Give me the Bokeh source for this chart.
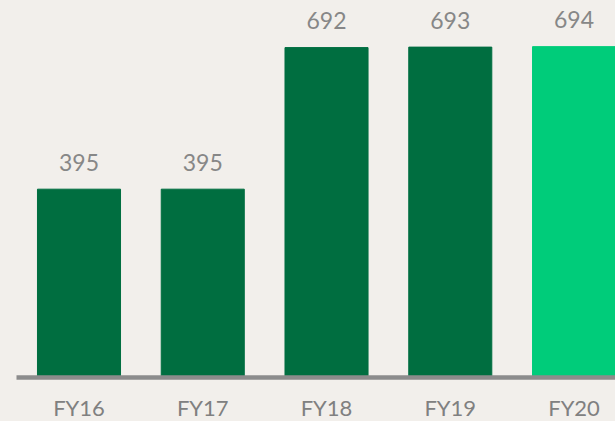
from bokeh.plotting import figure
from bokeh.models import ColumnDataSource, Range1d, FixedTicker
from bokeh.core.properties import value
from bokeh.embed import file_html
from bokeh.resources import INLINE

categories = ["FY16", "FY17", "FY18", "FY19", "FY20"]
values = [395, 395, 692, 693, 694]

DARK = "#006e40"
BRIGHT = "#00cc7a"
BG = "#f2efeb"
GRAY = "#878787"

xs = list(range(len(categories)))
colors = [BRIGHT if i == len(categories) - 1 else DARK for i in xs]
source = ColumnDataSource(dict(x=xs, cat=categories, v=values,
                               label=[str(v) for v in values], color=colors))

p = figure(frame_width=599, frame_height=369, output_backend="svg",
           toolbar_location=None, x_range=Range1d(-0.505, 4.335),
           y_range=Range1d(0, 774), min_border_left=16, min_border_right=0,
           min_border_top=8, min_border_bottom=0)

p.background_fill_color = BG
p.border_fill_color = BG
p.outline_line_color = None
p.grid.visible = False
p.yaxis.visible = False

p.vbar(x="x", top="v", width=0.671, bottom=0, color="color", source=source)
p.text(x="x", y="v", text="label", source=source, text_align="center",
       text_baseline="alphabetic", y_offset=-27, text_color=GRAY,
       text_font=value("Lato"), text_font_size="23px")

ax = p.xaxis[0]
ax.ticker = FixedTicker(ticks=xs)
ax.major_label_overrides = {i: c for i, c in zip(xs, categories)}
ax.axis_line_color = "#8c8c8c"
ax.axis_line_width = 4.5
ax.major_tick_line_color = None
ax.minor_tick_line_color = None
ax.major_tick_out = 0
ax.major_tick_in = 0
ax.major_label_standoff = 16
ax.major_label_text_font = "Lato"
ax.major_label_text_font_size = "22px"
ax.major_label_text_color = "#808080"

html = file_html(p, INLINE)
html = html.replace("</head>", "<style>html,body{background:%s;overflow:hidden}</style></head>" % BG, 1)
open("out.html", "w").write(html)
